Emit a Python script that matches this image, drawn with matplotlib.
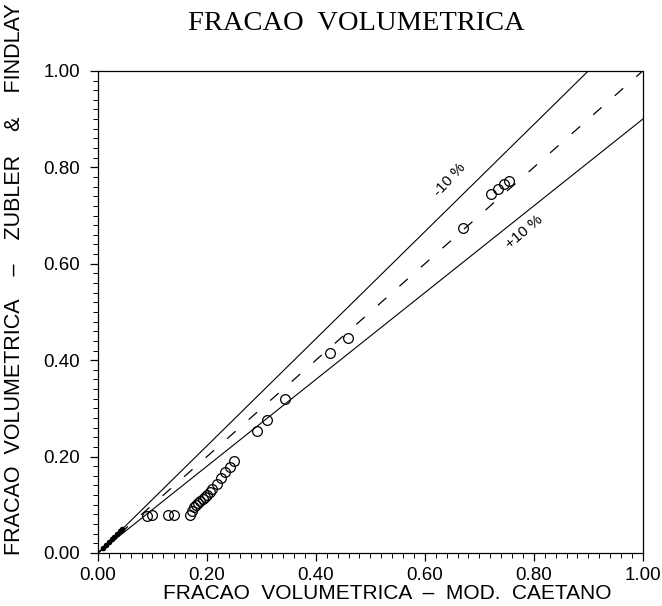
import numpy as np
import matplotlib.pyplot as plt
from matplotlib.ticker import MultipleLocator, FormatStrFormatter

# void fraction: Caetano model (x) vs Zuber & Findlay (y)
origin_x = [0.010, 0.015, 0.020, 0.025, 0.030, 0.035, 0.040, 0.045]
origin_y = [0.011, 0.017, 0.022, 0.028, 0.034, 0.039, 0.045, 0.050]

caetano = [0.090, 0.100, 0.128, 0.140,
           0.168, 0.172, 0.176, 0.180, 0.184, 0.188, 0.192, 0.196, 0.200,
           0.205, 0.210, 0.218, 0.226, 0.234, 0.242, 0.250,
           0.292, 0.310, 0.343, 0.426, 0.459, 0.670,
           0.722, 0.735, 0.745, 0.755]
zubler = [0.077, 0.078, 0.078, 0.078,
          0.078, 0.088, 0.095, 0.100, 0.104, 0.108, 0.112, 0.116, 0.120,
          0.126, 0.132, 0.143, 0.155, 0.167, 0.178, 0.190,
          0.254, 0.275, 0.320, 0.414, 0.446, 0.675,
          0.745, 0.755, 0.765, 0.772]

fig = plt.figure(figsize=(6.62, 6.06), dpi=100)
ax = fig.add_axes([0.148, 0.0875, 0.823, 0.7955])

line_x = np.array([0.0, 1.0])
ax.plot(line_x, line_x, color='black', lw=0.9, dashes=(9, 14))
ax.plot(line_x, line_x / 0.9, color='black', lw=0.8)
ax.plot(line_x, line_x * 0.9, color='black', lw=0.8)

ax.plot(origin_x, origin_y, 'o', ms=3, color='black')
ax.plot(caetano, zubler, 'o', ms=7, mfc='none', mec='black', mew=0.9)

ax.text(0.646, 0.775, '-10 %', rotation=47, ha='center', va='center',
        fontsize=11, family='Liberation Sans')
ax.text(0.782, 0.665, '+10 %', rotation=40, ha='center', va='center',
        fontsize=11, family='Liberation Sans')

ax.set_xlim(0, 1)
ax.set_ylim(0, 1)
ax.xaxis.set_major_locator(MultipleLocator(0.2))
ax.yaxis.set_major_locator(MultipleLocator(0.2))
ax.xaxis.set_minor_locator(MultipleLocator(0.02))
ax.yaxis.set_minor_locator(MultipleLocator(0.02))
ax.xaxis.set_major_formatter(FormatStrFormatter('%.2f'))
ax.yaxis.set_major_formatter(FormatStrFormatter('%.2f'))
ax.tick_params(which='major', direction='out', length=6, width=0.9,
               labelsize=13.5, pad=4)
ax.tick_params(which='minor', direction='out', length=3.5, width=0.7)
ax.tick_params(axis='y', which='major', pad=7)
for lbl in ax.get_xticklabels() + ax.get_yticklabels():
    lbl.set_family('Liberation Sans')

for side in ['top', 'right', 'left', 'bottom']:
    ax.spines[side].set_linewidth(0.9)
ax.spines['top'].set_linestyle((0, (3, 1)))

fig.text(0.539, 0.962, 'FRACAO  VOLUMETRICA', ha='center', va='center',
         fontsize=20.5, family='Liberation Serif')
fig.text(0.585, 0.021, 'FRACAO  VOLUMETRICA  \u2013  MOD.  CAETANO',
         ha='center', va='center', fontsize=15, family='Liberation Sans')
fig.text(0.022, 0.084, 'FRACAO  VOLUMETRICA    \u2013    ZUBLER    &    FINDLAY',
         ha='center', va='bottom', rotation=90, fontsize=15.5,
         family='Liberation Sans')

fig.savefig('out.png', dpi=100)
